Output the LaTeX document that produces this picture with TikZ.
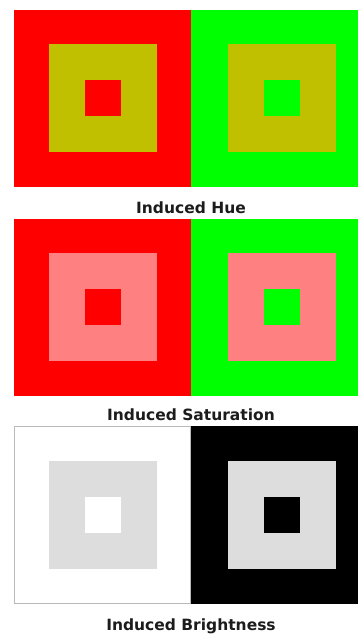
\documentclass[tikz,border=0pt]{standalone}
\usepackage{fontspec}
\setmainfont{DejaVu Sans}
\definecolor{hueolive}{RGB}{192,192,0}
\definecolor{satpink}{RGB}{255,128,128}
\definecolor{litegray}{RGB}{221,221,221}
\definecolor{capink}{RGB}{28,28,28}
\begin{document}
\begin{tikzpicture}[
    x=1pt, y=-1pt,
    every node/.style={inner sep=0pt, outer sep=0pt},
    field/.style={anchor=north west, minimum height=177pt},
    left field/.style={field, minimum width=177pt},
    right field/.style={field, minimum width=167pt},
    surround/.style={anchor=north west, minimum width=108pt, minimum height=108pt},
    core/.style={anchor=north west, minimum width=36pt, minimum height=36pt},
    caption/.style={anchor=base, text=capink, font=\fontsize{15.5}{18}\selectfont\bfseries}
  ]
    \useasboundingbox (0,0) rectangle (358,635);

    % Row 1: the same olive square on red and on green.
    \node[left field, fill=red] (hueRed) at (14,10) {};
    \node[right field, fill=green] (hueGreen) at (191,10) {};
    \node[surround, fill=hueolive] (hueRedRing) at (49,44) {};
    \node[surround, fill=hueolive] (hueGreenRing) at (228,44) {};
    \node[core, fill=red] (hueRedCore) at (85,80) {};
    \node[core, fill=green] (hueGreenCore) at (264,80) {};
    \node[caption] (hueCaption) at (191,213) {Induced Hue};

    % Row 2: the same pink square on red and on green.
    \node[left field, fill=red] (satRed) at (14,219) {};
    \node[right field, fill=green] (satGreen) at (191,219) {};
    \node[surround, fill=satpink] (satRedRing) at (49,253) {};
    \node[surround, fill=satpink] (satGreenRing) at (228,253) {};
    \node[core, fill=red] (satRedCore) at (85,289) {};
    \node[core, fill=green] (satGreenCore) at (264,289) {};
    \node[caption] (satCaption) at (191,420) {Induced Saturation};

    % Row 3: the same grey square on white and on black.
    \node[left field, fill=white, draw=gray!55, line width=0.8pt, minimum width=176pt, minimum height=177pt] (briWhite) at (14.5,426.5) {};
    \node[right field, fill=black, minimum height=178pt] (briBlack) at (191,426) {};
    \node[surround, fill=litegray] (briWhiteRing) at (49,461) {};
    \node[surround, fill=litegray] (briBlackRing) at (228,461) {};
    \node[core, fill=white] (briWhiteCore) at (85,497) {};
    \node[core, fill=black] (briBlackCore) at (264,497) {};
    \node[caption] (briCaption) at (191,630) {Induced Brightness};
  \end{tikzpicture}
\end{document}
